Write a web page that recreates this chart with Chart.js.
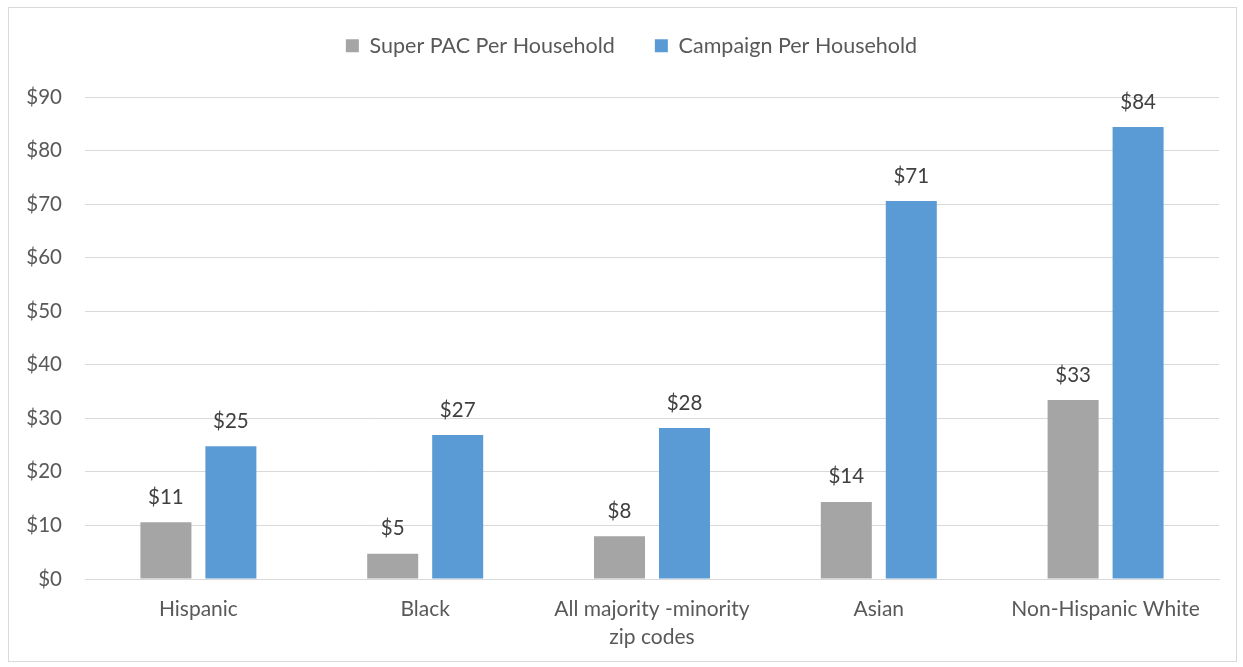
<!DOCTYPE html>
<html>
<head>
<meta charset="utf-8">
<script src="https://cdn.jsdelivr.net/npm/chart.js@4/dist/chart.umd.min.js"></script>
<style>
html,body{margin:0;padding:0;background:#fff;}
#wrap{position:absolute;left:0;top:0;width:1243px;height:667px;}
</style>
</head>
<body>
<div id="wrap"><canvas id="c" width="1243" height="667"></canvas></div>
<script>
const categories = ['Hispanic', 'Black', ['All majority -minority', 'zip codes'], 'Asian', 'Non-Hispanic White'];
const superPac = [10.6, 4.7, 8.0, 14.4, 33.4];
const campaign = [24.8, 26.9, 28.2, 70.6, 84.4];
const seriesNames = ['Super PAC Per Household', 'Campaign Per Household'];
const yTicks = [0, 10, 20, 30, 40, 50, 60, 70, 80, 90];

const FONT = 'Lato, "Open Sans", sans-serif';

const frame = {
  id: 'frame',
  beforeDraw(chart) {
    const ctx = chart.ctx;
    ctx.save();
    ctx.fillStyle = '#fff';
    ctx.fillRect(0, 0, chart.width, chart.height);
    ctx.strokeStyle = '#D9D9D9';
    ctx.lineWidth = 1;
    ctx.strokeRect(8.5, 7.5, 1228, 654);
    ctx.restore();
  }
};

const legendFit = {
  id: 'legendFit',
  beforeInit(chart) {
    const lg = chart.legend;
    if (!lg) return;
    const orig = lg.fit.bind(lg);
    lg.fit = function () { orig(); this.height = 102; };
  },
  afterLayout(chart) {
    const lg = chart.legend;
    if (!lg) return;
    lg.left += 18;
    lg.right += 18;
  }
};

const dataLabels = {
  id: 'dataLabels',
  afterDatasetsDraw(chart) {
    const ctx = chart.ctx;
    ctx.save();
    ctx.font = '20.5px ' + FONT;
    ctx.fillStyle = '#404040';
    ctx.textAlign = 'center';
    ctx.textBaseline = 'middle';
    chart.data.datasets.forEach((ds, i) => {
      chart.getDatasetMeta(i).data.forEach((bar, j) => {
        ctx.fillText('$' + Math.round(ds.data[j]), bar.x, bar.y - 25);
      });
    });
    ctx.restore();
  }
};

new Chart(document.getElementById('c'), {
  type: 'bar',
  data: {
    labels: categories,
    datasets: [
      { label: seriesNames[0], data: superPac, backgroundColor: '#A5A5A5', categoryPercentage: 0.573, barPercentage: 0.785 },
      { label: seriesNames[1], data: campaign, backgroundColor: '#5B9BD5', categoryPercentage: 0.573, barPercentage: 0.785 }
    ]
  },
  options: {
    responsive: false,
    animation: false,
    devicePixelRatio: 1,
    layout: { padding: { left: 8, right: 24, top: -5, bottom: 0 } },
    plugins: {
      tooltip: { enabled: false },
      legend: {
        position: 'top',
        labels: {
          font: { family: FONT, size: 21.5 },
          color: '#595959',
          boxWidth: 13,
          boxHeight: 13,
          padding: 40
        }
      }
    },
    scales: {
      x: {
        grid: { display: false, drawTicks: false },
        border: { color: '#D9D9D9', width: 1 },
        ticks: {
          font: { family: FONT, size: 21, lineHeight: 1.35 },
          color: '#595959',
          padding: 16,
          maxRotation: 0,
          autoSkip: false
        },
        afterFit(s) { s.height = 88; }
      },
      y: {
        min: 0,
        max: 90,
        afterBuildTicks(s) { s.ticks = yTicks.map(v => ({ value: v })); },
        grid: { color: '#D9D9D9', lineWidth: 1, drawTicks: false },
        border: { display: false },
        ticks: {
          font: { family: FONT, size: 20.5 },
          color: '#595959',
          padding: 23,
          callback: v => '$' + v
        },
        afterFit(s) { s.width = 77; }
      }
    }
  },
  plugins: [frame, legendFit, dataLabels]
});
</script>
</body>
</html>
